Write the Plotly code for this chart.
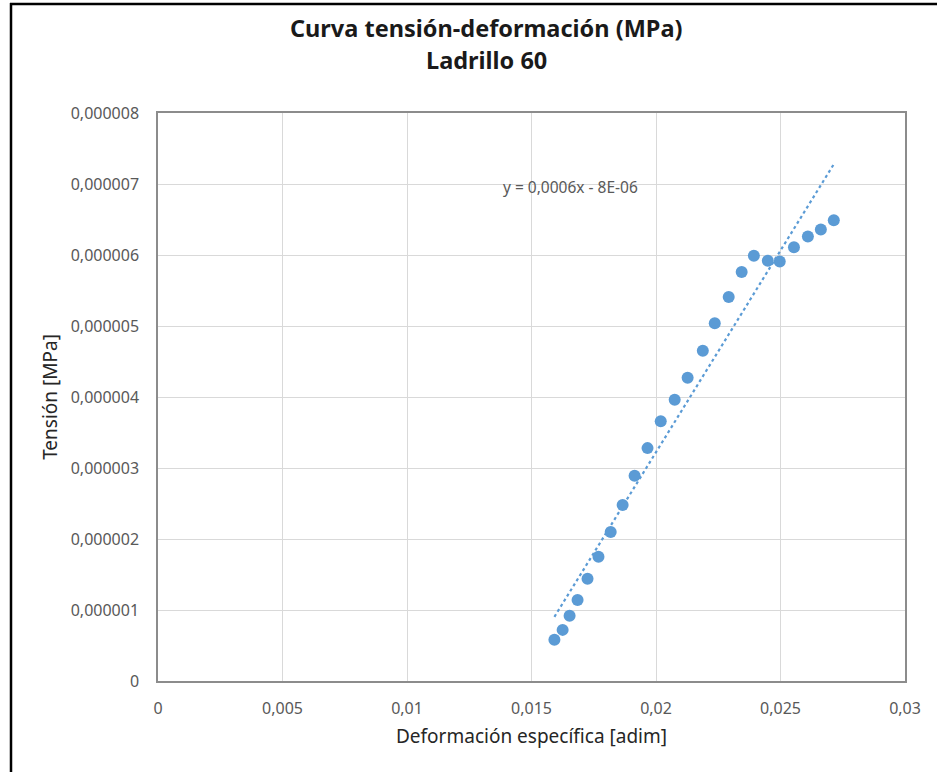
import numpy as np
import plotly.graph_objects as go

# Data
deformacion = [0.01592, 0.01625, 0.01653, 0.01685, 0.01725, 0.01769, 0.01818, 0.01866,
               0.01914, 0.01966, 0.02019, 0.02075, 0.02127, 0.02188, 0.02236, 0.02292,
               0.02344, 0.02393, 0.02449, 0.02497, 0.02554, 0.02610, 0.02662, 0.02714]
tension = [0.58e-6, 0.72e-6, 0.92e-6, 1.14e-6, 1.44e-6, 1.75e-6, 2.10e-6, 2.48e-6,
           2.89e-6, 3.28e-6, 3.66e-6, 3.96e-6, 4.27e-6, 4.65e-6, 5.04e-6, 5.41e-6,
           5.76e-6, 5.99e-6, 5.92e-6, 5.91e-6, 6.11e-6, 6.26e-6, 6.36e-6, 6.49e-6]

x_tick_vals = [0, 0.005, 0.01, 0.015, 0.02, 0.025, 0.03]
x_tick_labels = ["0", "0,005", "0,01", "0,015", "0,02", "0,025", "0,03"]
y_tick_vals = [0, 1e-6, 2e-6, 3e-6, 4e-6, 5e-6, 6e-6, 7e-6, 8e-6]
y_tick_labels = ["0", "0,000001", "0,000002", "0,000003", "0,000004",
                 "0,000005", "0,000006", "0,000007", "0,000008"]

title_line1 = "Curva tensión-deformación (MPa)"
title_line2 = "Ladrillo 60"
x_title = "Deformación específica [adim]"
y_title = "Tensión [MPa]"
equation_text = "y = 0,0006x - 8E-06"

# Linear trendline (least squares), spanning the data range
slope, intercept = np.polyfit(deformacion, tension, 1)
trend_x = [min(deformacion), max(deformacion)]
trend_y = [slope * v + intercept for v in trend_x]

W, H = 937, 772
ml, mr, mt, mb = 158, 32, 113, 91
pw, ph = W - ml - mr, H - mt - mb

def px(xpix):
    return (xpix - ml) / pw

def py(ypix):
    return (H - mb - ypix) / ph

blue = "#5B9BD5"
tick_color = "#595959"
font_family = "Noto Sans"

fig = go.Figure()
fig.add_trace(go.Scatter(
    x=trend_x, y=trend_y, mode="lines",
    line=dict(color=blue, width=2.2, dash="dot"),
    hoverinfo="skip", showlegend=False,
))
fig.add_trace(go.Scatter(
    x=deformacion, y=tension, mode="markers",
    marker=dict(color=blue, size=12, line=dict(width=0)),
    showlegend=False,
))

fig.update_layout(
    width=W, height=H,
    margin=dict(l=ml, r=mr, t=mt, b=mb),
    paper_bgcolor="white", plot_bgcolor="white",
    separators=",.",
    font=dict(family=font_family, color=tick_color),
    xaxis=dict(
        range=[0, 0.03], tickvals=x_tick_vals, ticktext=x_tick_labels,
        showgrid=True, gridcolor="#D9D9D9", gridwidth=1,
        zeroline=False, showline=True, linecolor="#8C8C8C", linewidth=1.5, mirror=True,
        ticks="", ticklabelstandoff=12, tickfont=dict(size=16, color=tick_color),
        title=dict(text=x_title, font=dict(size=19, color="#262626"), standoff=12),
    ),
    yaxis=dict(
        range=[0, 8e-6], tickvals=y_tick_vals, ticktext=y_tick_labels,
        showgrid=True, gridcolor="#D9D9D9", gridwidth=1,
        zeroline=False, showline=True, linecolor="#8C8C8C", linewidth=1.5, mirror=True,
        ticks="", ticklabelstandoff=14, tickfont=dict(size=16, color=tick_color),
        title=dict(text=y_title, font=dict(size=19, color="#262626"), standoff=8),
    ),
    annotations=[
        dict(text="<b>" + title_line1 + "</b>", xref="paper", yref="paper",
             x=px(486), y=py(28), xanchor="center", yanchor="middle",
             showarrow=False, font=dict(size=23.5, color="#1a1a1a", family=font_family)),
        dict(text="<b>" + title_line2 + "</b>", xref="paper", yref="paper",
             x=px(486), y=py(60), xanchor="center", yanchor="middle",
             showarrow=False, font=dict(size=23.5, color="#1a1a1a", family=font_family)),
        dict(text=equation_text, xref="x", yref="y",
             x=0.01657, y=6.96e-6, xanchor="center", yanchor="middle",
             showarrow=False, font=dict(size=15.5, color=tick_color, family=font_family)),
    ],
    shapes=[
        dict(type="line", xref="paper", yref="paper",
             x0=px(10), x1=px(W), y0=py(4), y1=py(4),
             line=dict(color="black", width=2.5)),
        dict(type="line", xref="paper", yref="paper",
             x0=px(11), x1=px(11), y0=py(3), y1=py(H),
             line=dict(color="black", width=2.5)),
    ],
)

fig.write_html("out.html")
